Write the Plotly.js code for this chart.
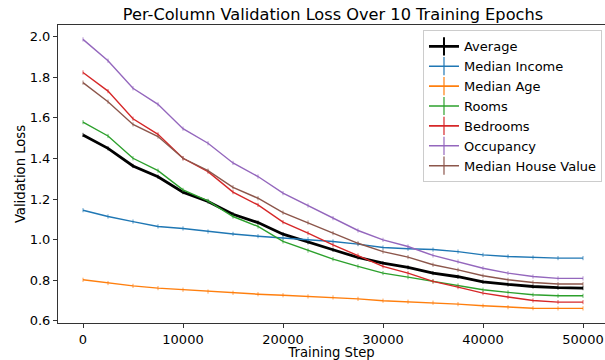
<!DOCTYPE html>
<html>
<head>
<meta charset="utf-8">
<script src="https://cdn.plot.ly/plotly-3.0.1.min.js"></script>
<style>html,body{margin:0;padding:0;background:#fff;}#chart{width:605px;height:360px;}</style>
</head>
<body>
<div id="chart"></div>
<script>
var steps = [0,2500,5000,7500,10000,12500,15000,17500,20000,22500,25000,27500,30000,32500,35000,37500,40000,42500,45000,47500,50000];
var seriesNames = ["Average","Median Income","Median Age","Rooms","Bedrooms","Occupancy","Median House Value"];
var seriesColors = ["#000000","#1f77b4","#ff7f0e","#2ca02c","#d62728","#9467bd","#8c564b"];
var average = [1.516,1.450,1.363,1.310,1.234,1.188,1.125,1.084,1.027,0.987,0.950,0.912,0.884,0.863,0.835,0.817,0.792,0.779,0.769,0.763,0.761];
var medianIncome = [1.145,1.114,1.089,1.065,1.055,1.040,1.028,1.017,1.009,1.002,0.991,0.978,0.961,0.955,0.951,0.941,0.925,0.917,0.912,0.909,0.909];
var medianAge = [0.802,0.786,0.772,0.761,0.753,0.744,0.738,0.731,0.726,0.720,0.715,0.708,0.699,0.694,0.689,0.682,0.674,0.667,0.662,0.661,0.661];
var rooms = [1.579,1.511,1.401,1.340,1.245,1.191,1.114,1.065,0.991,0.946,0.904,0.868,0.835,0.815,0.794,0.774,0.753,0.740,0.728,0.723,0.723];
var bedrooms = [1.824,1.732,1.596,1.519,1.401,1.335,1.234,1.171,1.086,1.032,0.974,0.922,0.868,0.835,0.794,0.766,0.736,0.717,0.700,0.692,0.692];
var occupancy = [1.987,1.882,1.746,1.667,1.547,1.475,1.378,1.311,1.229,1.168,1.106,1.045,0.999,0.966,0.922,0.892,0.859,0.835,0.818,0.809,0.809];
var medianHouseValue = [1.774,1.680,1.568,1.508,1.401,1.340,1.258,1.204,1.133,1.084,1.032,0.982,0.941,0.914,0.876,0.851,0.822,0.802,0.789,0.781,0.781];
var allSeries = [average, medianIncome, medianAge, rooms, bedrooms, occupancy, medianHouseValue];

var traces = allSeries.map(function(vals, i){
  var isAvg = i === 0;
  return {
    x: steps, y: vals, name: seriesNames[i], type: 'scatter', mode: 'lines+markers', showlegend: false,
    line: {color: seriesColors[i], width: isAvg ? 2.8 : 1.4},
    marker: {symbol: 'line-ns-open', size: 3, color: seriesColors[i], opacity: 0.7, line: {width: 1, color: seriesColors[i]}}
  };
});
// legend entries (no drawable data), styled like matplotlib errorbar handles
var legendTraces = seriesNames.map(function(name, i){
  var isAvg = i === 0;
  return {
    x: [null], y: [null], name: name, type: 'scatter', mode: 'lines+markers', showlegend: true,
    line: {color: seriesColors[i], width: isAvg ? 2.8 : 1.6},
    marker: {symbol: 'line-ns-open', size: 13, color: seriesColors[i], opacity: isAvg ? 1 : 0.75,
             line: {width: isAvg ? 2 : 1.6, color: seriesColors[i]}}
  };
});

var font = 'DejaVu Sans, sans-serif';
var layout = {
  width: 605, height: 360,
  margin: {l: 58, r: 0, t: 25, b: 37},
  paper_bgcolor: '#fff', plot_bgcolor: '#fff',
  font: {family: font, size: 13, color: '#000'},
  title: {text: 'Per-Column Validation Loss Over 10 Training Epochs', font: {family: font, size: 16.2, color: '#000'},
          x: 0.5027, xref: 'paper', xanchor: 'center', y: 0.961, yref: 'container', yanchor: 'middle'},
  xaxis: {range: [-2500, 52200], tickvals: [0,10000,20000,30000,40000,50000], ticktext: ['0','10000','20000','30000','40000','50000'],
          showgrid: false, zeroline: false, showline: true, mirror: true, linecolor: '#333', linewidth: 1,
          ticks: 'outside', ticklen: 4, tickcolor: '#333', tickfont: {size: 13},
          title: {text: 'Training Step', font: {size: 13.2}, standoff: 4}},
  yaxis: {range: [0.589, 2.058], tickvals: [0.6,0.8,1.0,1.2,1.4,1.6,1.8,2.0], ticktext: ['0.6','0.8','1.0','1.2','1.4','1.6','1.8','2.0'],
          showgrid: false, zeroline: false, showline: true, mirror: false, linecolor: '#333', linewidth: 1,
          ticks: 'outside', ticklen: 4, tickcolor: '#333', tickfont: {size: 13},
          title: {text: 'Validation Loss', font: {size: 13.2}, standoff: 1}},
  showlegend: true,
  legend: {x: 0.9945, xanchor: 'right', y: 0.982, yanchor: 'top', bgcolor: 'rgba(255,255,255,0.8)',
           bordercolor: '#cccccc', borderwidth: 1, font: {size: 13}, itemsizing: 'trace', tracegroupgap: 0}
};
Plotly.newPlot('chart', traces.concat(legendTraces), layout, {staticPlot: true, displayModeBar: false});
</script>
</body>
</html>
